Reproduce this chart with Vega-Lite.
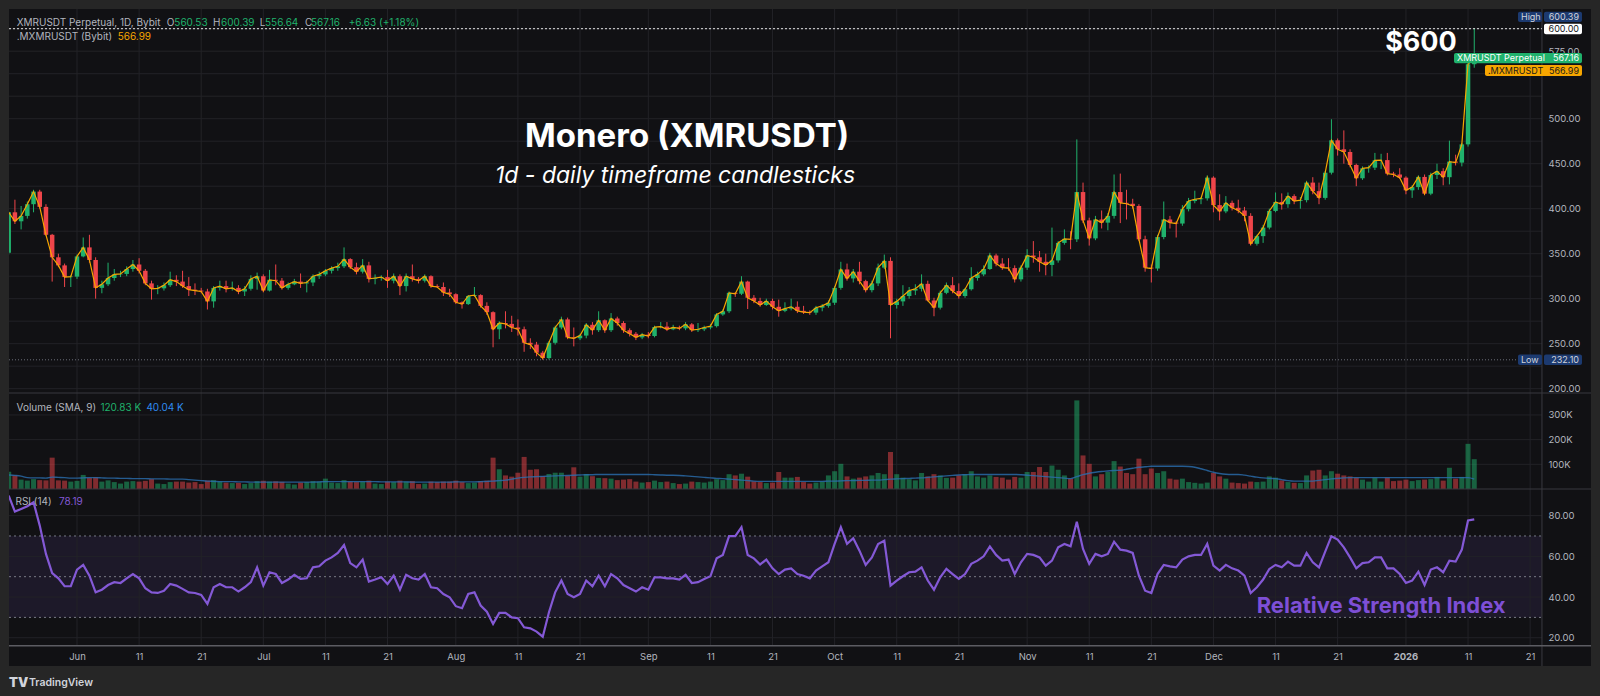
{
  "$schema": "https://vega.github.io/schema/vega-lite/v6.json",
  "background": "#262626",
  "padding": {"left": 8, "top": 8, "right": 10, "bottom": 8},
  "bounds": "flush",
  "spacing": 0,
  "config": {
    "font": "Inter",
    "view": {"stroke": null},
    "axis": {"labelFont": "Inter", "labelFontSize": 9.5, "labelColor": "#b2b5be", "ticks": false, "tickSize": 0, "domain": false, "grid": false, "labelOverlap": false, "labelBound": false, "labelFlush": false}
  },
  "datasets": {
    "ticks": [
      {"t": "2025-06-01"}, {"t": "2025-06-11"}, {"t": "2025-06-21"}, {"t": "2025-07-01"}, {"t": "2025-07-11"}, {"t": "2025-07-21"},
      {"t": "2025-08-01"}, {"t": "2025-08-11"}, {"t": "2025-08-21"}, {"t": "2025-09-01"}, {"t": "2025-09-11"}, {"t": "2025-09-21"},
      {"t": "2025-10-01"}, {"t": "2025-10-11"}, {"t": "2025-10-21"}, {"t": "2025-11-01"}, {"t": "2025-11-11"}, {"t": "2025-11-21"},
      {"t": "2025-12-01"}, {"t": "2025-12-11"}, {"t": "2025-12-21"}, {"t": "2026-01-01"}, {"t": "2026-01-11"}, {"t": "2026-01-21"}
    ],
    "xmr": [
      {"t":"2025-05-21","o":351,"h":397,"l":349,"c":396,"v":70,"vs":57,"r":89.8},
      {"t":"2025-05-22","o":396,"h":410,"l":383,"c":386,"v":55,"vs":55,"r":82},
      {"t":"2025-05-23","o":386,"h":403,"l":377,"c":392,"v":38,"vs":52,"r":83.3},
      {"t":"2025-05-24","o":392,"h":408,"l":389,"c":405,"v":34,"vs":46,"r":84.6},
      {"t":"2025-05-25","o":405,"h":421,"l":396,"c":419,"v":40,"vs":45,"r":86.6},
      {"t":"2025-05-26","o":419,"h":421,"l":400,"c":402,"v":36,"vs":45,"r":75.1},
      {"t":"2025-05-27","o":402,"h":405,"l":370,"c":371,"v":35,"vs":44,"r":61.2},
      {"t":"2025-05-28","o":371,"h":372,"l":319,"c":346,"v":127,"vs":48,"r":51.8},
      {"t":"2025-05-29","o":346,"h":350,"l":335,"c":337,"v":35,"vs":47,"r":49.2},
      {"t":"2025-05-30","o":337,"h":339,"l":313,"c":324,"v":34,"vs":46,"r":45.3},
      {"t":"2025-05-31","o":324,"h":326,"l":313,"c":324.5,"v":30,"vs":44,"r":45.3},
      {"t":"2025-06-01","o":324.5,"h":349,"l":322,"c":347,"v":33,"vs":44,"r":53.5},
      {"t":"2025-06-02","o":347,"h":368,"l":346,"c":357,"v":57,"vs":45,"r":55.8},
      {"t":"2025-06-03","o":357,"h":371,"l":340,"c":343,"v":45,"vs":46,"r":50.5},
      {"t":"2025-06-04","o":343,"h":346,"l":300,"c":312,"v":47,"vs":46,"r":42.3},
      {"t":"2025-06-05","o":312,"h":320,"l":306,"c":316,"v":30,"vs":45,"r":43.6},
      {"t":"2025-06-06","o":316,"h":340,"l":314,"c":323,"v":35,"vs":44,"r":45.9},
      {"t":"2025-06-07","o":323,"h":333,"l":320,"c":327,"v":28,"vs":44,"r":47.3},
      {"t":"2025-06-08","o":327,"h":331,"l":324,"c":327.5,"v":22,"vs":43,"r":46.9},
      {"t":"2025-06-09","o":327.5,"h":336,"l":325,"c":333,"v":30,"vs":43,"r":49.2},
      {"t":"2025-06-10","o":333,"h":343,"l":330,"c":338,"v":32,"vs":42,"r":51.3},
      {"t":"2025-06-11","o":338,"h":345,"l":328,"c":331,"v":30,"vs":42,"r":49.2},
      {"t":"2025-06-12","o":331,"h":333,"l":315,"c":317,"v":33,"vs":42,"r":44.3},
      {"t":"2025-06-13","o":317,"h":320,"l":299,"c":311,"v":40,"vs":41,"r":42.3},
      {"t":"2025-06-14","o":311,"h":315,"l":305,"c":311.5,"v":22,"vs":41,"r":42},
      {"t":"2025-06-15","o":311.5,"h":318,"l":309,"c":315,"v":20,"vs":41,"r":43.1},
      {"t":"2025-06-16","o":315,"h":330,"l":313,"c":321,"v":28,"vs":40,"r":46.4},
      {"t":"2025-06-17","o":321,"h":326,"l":314,"c":319,"v":30,"vs":40,"r":45.6},
      {"t":"2025-06-18","o":319,"h":331,"l":312,"c":314,"v":30,"vs":40,"r":44},
      {"t":"2025-06-19","o":314,"h":324,"l":303,"c":310,"v":26,"vs":38,"r":42.3},
      {"t":"2025-06-20","o":310,"h":317,"l":304,"c":309,"v":28,"vs":36,"r":42},
      {"t":"2025-06-21","o":309,"h":312,"l":306,"c":308,"v":20,"vs":34,"r":41},
      {"t":"2025-06-22","o":308,"h":311,"l":288,"c":297,"v":34,"vs":32,"r":36.6},
      {"t":"2025-06-23","o":297,"h":314,"l":290,"c":312,"v":36,"vs":31,"r":44.8},
      {"t":"2025-06-24","o":312,"h":320,"l":309,"c":314,"v":30,"vs":30,"r":46.4},
      {"t":"2025-06-25","o":314,"h":320,"l":307,"c":311,"v":26,"vs":30,"r":44.8},
      {"t":"2025-06-26","o":311,"h":319,"l":309,"c":312,"v":24,"vs":30,"r":44.8},
      {"t":"2025-06-27","o":312,"h":315,"l":305,"c":308,"v":25,"vs":29,"r":42.7},
      {"t":"2025-06-28","o":308,"h":314,"l":303,"c":311,"v":20,"vs":29,"r":44.8},
      {"t":"2025-06-29","o":311,"h":326,"l":309,"c":322,"v":24,"vs":28,"r":47.3},
      {"t":"2025-06-30","o":322,"h":329,"l":310,"c":325,"v":32,"vs":28,"r":54.6},
      {"t":"2025-07-01","o":325,"h":327,"l":307,"c":309,"v":33,"vs":28,"r":45.6},
      {"t":"2025-07-02","o":309,"h":332,"l":308,"c":321,"v":30,"vs":28,"r":52.2},
      {"t":"2025-07-03","o":321,"h":338,"l":315,"c":320,"v":31,"vs":28,"r":51.3},
      {"t":"2025-07-04","o":320,"h":323,"l":310,"c":312,"v":29,"vs":28,"r":46.9},
      {"t":"2025-07-05","o":312,"h":318,"l":310,"c":316,"v":22,"vs":28,"r":48.6},
      {"t":"2025-07-06","o":316,"h":322,"l":315,"c":319,"v":18,"vs":28,"r":50.9},
      {"t":"2025-07-07","o":319,"h":328,"l":312,"c":317,"v":26,"vs":28,"r":48.9},
      {"t":"2025-07-08","o":317,"h":320,"l":307,"c":318,"v":28,"vs":28,"r":49.2},
      {"t":"2025-07-09","o":318,"h":327,"l":314,"c":325,"v":32,"vs":28,"r":54.6},
      {"t":"2025-07-10","o":325,"h":330,"l":322,"c":327,"v":30,"vs":29,"r":55.1},
      {"t":"2025-07-11","o":327,"h":333,"l":325,"c":331,"v":42,"vs":30,"r":57.9},
      {"t":"2025-07-12","o":331,"h":336,"l":328,"c":334,"v":26,"vs":30,"r":59.5},
      {"t":"2025-07-13","o":334,"h":340,"l":331,"c":336,"v":24,"vs":30,"r":61.7},
      {"t":"2025-07-14","o":336,"h":357,"l":334,"c":344,"v":36,"vs":30,"r":65.6},
      {"t":"2025-07-15","o":344,"h":345,"l":333,"c":335,"v":30,"vs":30,"r":56.7},
      {"t":"2025-07-16","o":335,"h":340,"l":327,"c":330,"v":28,"vs":30,"r":54.6},
      {"t":"2025-07-17","o":330,"h":344,"l":328,"c":337,"v":30,"vs":30,"r":58.4},
      {"t":"2025-07-18","o":337,"h":341,"l":318,"c":322,"v":34,"vs":30,"r":47.6},
      {"t":"2025-07-19","o":322,"h":327,"l":316,"c":323,"v":22,"vs":30,"r":48.6},
      {"t":"2025-07-20","o":323,"h":326,"l":320,"c":324,"v":20,"vs":29,"r":49.7},
      {"t":"2025-07-21","o":324,"h":332,"l":312,"c":320,"v":30,"vs":29,"r":46.4},
      {"t":"2025-07-22","o":320,"h":328,"l":317,"c":325,"v":28,"vs":29,"r":50.5},
      {"t":"2025-07-23","o":325,"h":327,"l":304,"c":314,"v":34,"vs":29,"r":43.6},
      {"t":"2025-07-24","o":314,"h":328,"l":308,"c":325,"v":30,"vs":29,"r":50.9},
      {"t":"2025-07-25","o":325,"h":338,"l":319,"c":322,"v":32,"vs":28,"r":49.2},
      {"t":"2025-07-26","o":322,"h":324,"l":317,"c":320,"v":20,"vs":28,"r":48.6},
      {"t":"2025-07-27","o":320,"h":327,"l":318,"c":325,"v":22,"vs":28,"r":51.3},
      {"t":"2025-07-28","o":325,"h":326,"l":312,"c":314,"v":30,"vs":28,"r":44.8},
      {"t":"2025-07-29","o":314,"h":316,"l":312,"c":313,"v":28,"vs":28,"r":44.3},
      {"t":"2025-07-30","o":313,"h":318,"l":303,"c":307,"v":30,"vs":28,"r":41.5},
      {"t":"2025-07-31","o":307,"h":311,"l":302,"c":305,"v":30,"vs":28,"r":39.9},
      {"t":"2025-08-01","o":305,"h":306,"l":294,"c":296,"v":34,"vs":29,"r":35.5},
      {"t":"2025-08-02","o":296,"h":297,"l":289,"c":294,"v":28,"vs":29,"r":34.5},
      {"t":"2025-08-03","o":294,"h":304,"l":293,"c":303,"v":24,"vs":29,"r":41.5},
      {"t":"2025-08-04","o":303,"h":313,"l":302,"c":304,"v":26,"vs":29,"r":42.3},
      {"t":"2025-08-05","o":304,"h":305,"l":290,"c":292,"v":32,"vs":30,"r":35.8},
      {"t":"2025-08-06","o":292,"h":296,"l":282,"c":285,"v":34,"vs":31,"r":32.8},
      {"t":"2025-08-07","o":285,"h":286,"l":246,"c":266,"v":127,"vs":32,"r":26.8},
      {"t":"2025-08-08","o":266,"h":275,"l":255,"c":273,"v":80,"vs":34,"r":32.2},
      {"t":"2025-08-09","o":273,"h":286,"l":267,"c":272,"v":55,"vs":36,"r":32.2},
      {"t":"2025-08-10","o":272,"h":281,"l":263,"c":268,"v":50,"vs":40,"r":30},
      {"t":"2025-08-11","o":268,"h":277,"l":259,"c":266,"v":66,"vs":44,"r":29.6},
      {"t":"2025-08-12","o":266,"h":269,"l":241,"c":251,"v":130,"vs":47,"r":25.1},
      {"t":"2025-08-13","o":251,"h":256,"l":244,"c":249,"v":78,"vs":49,"r":24.6},
      {"t":"2025-08-14","o":249,"h":252,"l":236,"c":240,"v":80,"vs":50,"r":23},
      {"t":"2025-08-15","o":240,"h":242,"l":232.1,"c":234,"v":52,"vs":51,"r":20.5},
      {"t":"2025-08-16","o":234,"h":253,"l":232.5,"c":251,"v":61,"vs":52,"r":32.5},
      {"t":"2025-08-17","o":251,"h":270,"l":249,"c":268,"v":66,"vs":53,"r":42.3},
      {"t":"2025-08-18","o":268,"h":280,"l":266,"c":277,"v":66,"vs":54,"r":48.1},
      {"t":"2025-08-19","o":277,"h":279,"l":255,"c":257,"v":54,"vs":55,"r":41.5},
      {"t":"2025-08-20","o":257,"h":268,"l":247,"c":256,"v":88,"vs":56,"r":39.9},
      {"t":"2025-08-21","o":256,"h":261,"l":254,"c":259,"v":50,"vs":57,"r":41.5},
      {"t":"2025-08-22","o":259,"h":273,"l":256,"c":271,"v":61,"vs":58,"r":48.1},
      {"t":"2025-08-23","o":271,"h":274,"l":260,"c":265,"v":52,"vs":58,"r":45.3},
      {"t":"2025-08-24","o":265,"h":286,"l":263,"c":276,"v":45,"vs":59,"r":50.5},
      {"t":"2025-08-25","o":276,"h":277,"l":262,"c":265,"v":44,"vs":59,"r":45.3},
      {"t":"2025-08-26","o":265,"h":284,"l":263,"c":278,"v":42,"vs":59,"r":51.3},
      {"t":"2025-08-27","o":278,"h":280,"l":270,"c":273,"v":36,"vs":59,"r":49.2},
      {"t":"2025-08-28","o":273,"h":275,"l":262,"c":265,"v":38,"vs":59,"r":45.9},
      {"t":"2025-08-29","o":265,"h":267,"l":258,"c":261,"v":40,"vs":59,"r":44.3},
      {"t":"2025-08-30","o":261,"h":263,"l":254,"c":257,"v":30,"vs":59,"r":42.7},
      {"t":"2025-08-31","o":257,"h":262,"l":255,"c":260,"v":26,"vs":59,"r":44.8},
      {"t":"2025-09-01","o":260,"h":263,"l":256,"c":258.5,"v":28,"vs":59,"r":43.6},
      {"t":"2025-09-02","o":258.5,"h":270,"l":257,"c":268.5,"v":34,"vs":58,"r":49.7},
      {"t":"2025-09-03","o":268.5,"h":274,"l":267,"c":269,"v":28,"vs":57,"r":49.7},
      {"t":"2025-09-04","o":269,"h":274,"l":264,"c":266,"v":30,"vs":56,"r":49.2},
      {"t":"2025-09-05","o":266,"h":271,"l":265,"c":268,"v":24,"vs":56,"r":49.2},
      {"t":"2025-09-06","o":268,"h":270,"l":265,"c":267,"v":20,"vs":55,"r":48.6},
      {"t":"2025-09-07","o":267,"h":274,"l":265,"c":271.5,"v":22,"vs":53,"r":50.9},
      {"t":"2025-09-08","o":271.5,"h":273,"l":263,"c":265,"v":30,"vs":51,"r":46.9},
      {"t":"2025-09-09","o":265,"h":273,"l":263,"c":266,"v":28,"vs":49,"r":47.3},
      {"t":"2025-09-10","o":266,"h":270,"l":264,"c":268,"v":26,"vs":47,"r":48.9},
      {"t":"2025-09-11","o":268,"h":272,"l":266,"c":269.5,"v":30,"vs":45,"r":50.2},
      {"t":"2025-09-12","o":269.5,"h":284,"l":268,"c":282.5,"v":40,"vs":43,"r":59},
      {"t":"2025-09-13","o":282.5,"h":288,"l":281,"c":286,"v":36,"vs":42,"r":60.7},
      {"t":"2025-09-14","o":286,"h":308,"l":284,"c":306.5,"v":60,"vs":40,"r":69.9},
      {"t":"2025-09-15","o":306.5,"h":307,"l":302,"c":305.5,"v":55,"vs":38,"r":69.9},
      {"t":"2025-09-16","o":305.5,"h":325,"l":304,"c":319,"v":62,"vs":36,"r":74.3},
      {"t":"2025-09-17","o":319,"h":320,"l":288.5,"c":301,"v":50,"vs":34,"r":60.7},
      {"t":"2025-09-18","o":301,"h":304,"l":295,"c":297.5,"v":31,"vs":32,"r":59},
      {"t":"2025-09-19","o":297.5,"h":301,"l":291,"c":293,"v":28,"vs":31,"r":56},
      {"t":"2025-09-20","o":293,"h":300,"l":292,"c":297.5,"v":24,"vs":31,"r":58.4},
      {"t":"2025-09-21","o":297.5,"h":300,"l":288,"c":291,"v":26,"vs":31,"r":54.1},
      {"t":"2025-09-22","o":291,"h":299,"l":280,"c":286.5,"v":69,"vs":31,"r":51.3},
      {"t":"2025-09-23","o":286.5,"h":296,"l":285,"c":289,"v":46,"vs":31,"r":53.5},
      {"t":"2025-09-24","o":289,"h":300,"l":287,"c":291,"v":46,"vs":31,"r":54.1},
      {"t":"2025-09-25","o":291,"h":297,"l":284,"c":286.5,"v":49,"vs":31,"r":51.3},
      {"t":"2025-09-26","o":286.5,"h":292,"l":283,"c":285,"v":28,"vs":31,"r":50.5},
      {"t":"2025-09-27","o":285,"h":287,"l":282,"c":284.5,"v":22,"vs":31,"r":49.2},
      {"t":"2025-09-28","o":284.5,"h":292,"l":282,"c":290,"v":26,"vs":31,"r":53},
      {"t":"2025-09-29","o":290,"h":294,"l":286,"c":292,"v":30,"vs":31,"r":55.1},
      {"t":"2025-09-30","o":292,"h":298,"l":290,"c":295.5,"v":55,"vs":32,"r":57.1},
      {"t":"2025-10-01","o":295.5,"h":314,"l":293,"c":312,"v":72,"vs":32,"r":66.1},
      {"t":"2025-10-02","o":312,"h":341,"l":310,"c":332.5,"v":102,"vs":33,"r":74.3},
      {"t":"2025-10-03","o":332.5,"h":339,"l":320,"c":322.5,"v":51,"vs":34,"r":66.1},
      {"t":"2025-10-04","o":322.5,"h":333,"l":318,"c":330,"v":42,"vs":34,"r":68.9},
      {"t":"2025-10-05","o":330,"h":341,"l":316,"c":319.5,"v":46,"vs":35,"r":62.8},
      {"t":"2025-10-06","o":319.5,"h":321,"l":307,"c":309.5,"v":51,"vs":35,"r":55.8},
      {"t":"2025-10-07","o":309.5,"h":320,"l":307,"c":317,"v":55,"vs":36,"r":59.5},
      {"t":"2025-10-08","o":317,"h":339,"l":314,"c":334.5,"v":65,"vs":36,"r":66.1},
      {"t":"2025-10-09","o":334.5,"h":349,"l":333,"c":342,"v":60,"vs":38,"r":67.7},
      {"t":"2025-10-10","o":342,"h":346,"l":256,"c":293,"v":150,"vs":40,"r":45.6},
      {"t":"2025-10-11","o":293,"h":300,"l":289,"c":297,"v":60,"vs":41,"r":48.1},
      {"t":"2025-10-12","o":297,"h":315,"l":292,"c":303,"v":46,"vs":42,"r":50.2},
      {"t":"2025-10-13","o":303,"h":313,"l":300,"c":309,"v":40,"vs":43,"r":52.2},
      {"t":"2025-10-14","o":309,"h":316,"l":304,"c":311,"v":35,"vs":44,"r":52.5},
      {"t":"2025-10-15","o":311,"h":327,"l":308,"c":316.5,"v":65,"vs":45,"r":54.6},
      {"t":"2025-10-16","o":316.5,"h":320,"l":297,"c":298,"v":51,"vs":47,"r":48.1},
      {"t":"2025-10-17","o":298,"h":301,"l":280.5,"c":290,"v":60,"vs":49,"r":43.6},
      {"t":"2025-10-18","o":290,"h":309,"l":288,"c":306.5,"v":55,"vs":51,"r":49.7},
      {"t":"2025-10-19","o":306.5,"h":318,"l":305,"c":315,"v":45,"vs":53,"r":53.8},
      {"t":"2025-10-20","o":315,"h":324,"l":306,"c":308.5,"v":46,"vs":55,"r":51.3},
      {"t":"2025-10-21","o":308.5,"h":317,"l":300,"c":303,"v":55,"vs":57,"r":48.9},
      {"t":"2025-10-22","o":303,"h":312,"l":301,"c":310.5,"v":60,"vs":58,"r":51.3},
      {"t":"2025-10-23","o":310.5,"h":335,"l":309,"c":323,"v":72,"vs":59,"r":56.3},
      {"t":"2025-10-24","o":323,"h":330,"l":320,"c":327,"v":51,"vs":59,"r":57.9},
      {"t":"2025-10-25","o":327,"h":337,"l":325,"c":333,"v":46,"vs":59,"r":60},
      {"t":"2025-10-26","o":333,"h":351,"l":332,"c":348,"v":55,"vs":59,"r":64.9},
      {"t":"2025-10-27","o":348,"h":350,"l":336,"c":339,"v":49,"vs":59,"r":60.7},
      {"t":"2025-10-28","o":339,"h":345,"l":332,"c":334.5,"v":46,"vs":59,"r":57.9},
      {"t":"2025-10-29","o":334.5,"h":345,"l":331,"c":334,"v":38,"vs":59,"r":58.4},
      {"t":"2025-10-30","o":334,"h":337,"l":318,"c":321.5,"v":49,"vs":59,"r":51.3},
      {"t":"2025-10-31","o":321.5,"h":337,"l":319,"c":334.5,"v":46,"vs":58,"r":57.1},
      {"t":"2025-11-01","o":334.5,"h":355,"l":332,"c":348,"v":69,"vs":56,"r":61.2},
      {"t":"2025-11-02","o":348,"h":364,"l":340,"c":346,"v":69,"vs":54,"r":60.7},
      {"t":"2025-11-03","o":346,"h":353,"l":330,"c":341,"v":89,"vs":52,"r":59.5},
      {"t":"2025-11-04","o":341,"h":350,"l":326,"c":337.5,"v":69,"vs":50,"r":55.4},
      {"t":"2025-11-05","o":337.5,"h":379,"l":325,"c":342.5,"v":95,"vs":48,"r":57.9},
      {"t":"2025-11-06","o":342.5,"h":364,"l":340,"c":362,"v":78,"vs":46,"r":64.4},
      {"t":"2025-11-07","o":362,"h":377,"l":360,"c":366.5,"v":55,"vs":44,"r":66.1},
      {"t":"2025-11-08","o":366.5,"h":375,"l":355,"c":366,"v":42,"vs":42,"r":64.9},
      {"t":"2025-11-09","o":366,"h":477,"l":363,"c":418.5,"v":359,"vs":50,"r":77},
      {"t":"2025-11-10","o":418.5,"h":429,"l":384,"c":387,"v":136,"vs":58,"r":63.6},
      {"t":"2025-11-11","o":387,"h":390,"l":359,"c":367,"v":102,"vs":64,"r":56.3},
      {"t":"2025-11-12","o":367,"h":392,"l":365,"c":388,"v":51,"vs":68,"r":61.2},
      {"t":"2025-11-13","o":388,"h":398,"l":378,"c":384.5,"v":60,"vs":71,"r":60},
      {"t":"2025-11-14","o":384.5,"h":395,"l":376,"c":392,"v":69,"vs":73,"r":61.2},
      {"t":"2025-11-15","o":392,"h":438,"l":389,"c":418.5,"v":113,"vs":75,"r":67.2},
      {"t":"2025-11-16","o":418.5,"h":439,"l":384,"c":406.5,"v":91,"vs":76,"r":63.3},
      {"t":"2025-11-17","o":406.5,"h":421,"l":388,"c":405.5,"v":65,"vs":80,"r":62.8},
      {"t":"2025-11-18","o":405.5,"h":411,"l":400,"c":403,"v":60,"vs":84,"r":61.7},
      {"t":"2025-11-19","o":403,"h":405,"l":364,"c":366,"v":123,"vs":88,"r":50.5},
      {"t":"2025-11-20","o":366,"h":370,"l":330,"c":334.5,"v":60,"vs":90,"r":43.1},
      {"t":"2025-11-21","o":334.5,"h":338,"l":318,"c":333.5,"v":83,"vs":92,"r":42},
      {"t":"2025-11-22","o":333.5,"h":371,"l":331,"c":368.5,"v":65,"vs":92,"r":51.3},
      {"t":"2025-11-23","o":368.5,"h":408,"l":366,"c":388,"v":72,"vs":92,"r":55.8},
      {"t":"2025-11-24","o":388,"h":392,"l":378,"c":384.5,"v":42,"vs":92,"r":55.1},
      {"t":"2025-11-25","o":384.5,"h":386,"l":368,"c":383.5,"v":38,"vs":92,"r":54.6},
      {"t":"2025-11-26","o":383.5,"h":404,"l":381,"c":399.5,"v":42,"vs":92,"r":58.4},
      {"t":"2025-11-27","o":399.5,"h":412,"l":397,"c":408.5,"v":28,"vs":91,"r":60},
      {"t":"2025-11-28","o":408.5,"h":420,"l":406,"c":410.5,"v":25,"vs":88,"r":60.7},
      {"t":"2025-11-29","o":410.5,"h":413,"l":405,"c":411.5,"v":22,"vs":82,"r":60.7},
      {"t":"2025-11-30","o":411.5,"h":437,"l":409,"c":434.5,"v":26,"vs":75,"r":66.1},
      {"t":"2025-12-01","o":434.5,"h":436,"l":396,"c":404,"v":65,"vs":68,"r":55.4},
      {"t":"2025-12-02","o":404,"h":416,"l":387,"c":397,"v":51,"vs":63,"r":53},
      {"t":"2025-12-03","o":397,"h":414,"l":395,"c":406.5,"v":42,"vs":60,"r":55.8},
      {"t":"2025-12-04","o":406.5,"h":409,"l":398,"c":401,"v":26,"vs":59,"r":54.1},
      {"t":"2025-12-05","o":401,"h":410,"l":395,"c":398,"v":24,"vs":59,"r":53},
      {"t":"2025-12-06","o":398,"h":402,"l":386,"c":392,"v":22,"vs":56,"r":50.5},
      {"t":"2025-12-07","o":392,"h":395,"l":359,"c":361,"v":30,"vs":52,"r":42},
      {"t":"2025-12-08","o":361,"h":371,"l":359,"c":369.5,"v":28,"vs":48,"r":44.8},
      {"t":"2025-12-09","o":369.5,"h":382,"l":362,"c":379,"v":30,"vs":45,"r":48.6},
      {"t":"2025-12-10","o":379,"h":400,"l":377,"c":397.5,"v":51,"vs":43,"r":53.8},
      {"t":"2025-12-11","o":397.5,"h":418,"l":396,"c":407.5,"v":46,"vs":42,"r":55.8},
      {"t":"2025-12-12","o":407.5,"h":417,"l":399,"c":405,"v":35,"vs":38,"r":54.6},
      {"t":"2025-12-13","o":405,"h":418,"l":401,"c":414,"v":28,"vs":34,"r":57.4},
      {"t":"2025-12-14","o":414,"h":416,"l":405,"c":408.5,"v":25,"vs":32,"r":55.4},
      {"t":"2025-12-15","o":408.5,"h":413,"l":400,"c":409.5,"v":24,"vs":32,"r":55.4},
      {"t":"2025-12-16","o":409.5,"h":431,"l":407,"c":429,"v":55,"vs":32,"r":61.7},
      {"t":"2025-12-17","o":429,"h":435,"l":416,"c":419.5,"v":75,"vs":32,"r":57.1},
      {"t":"2025-12-18","o":419.5,"h":429,"l":405,"c":412,"v":78,"vs":35,"r":54.6},
      {"t":"2025-12-19","o":412,"h":442,"l":410,"c":440,"v":55,"vs":38,"r":62.3},
      {"t":"2025-12-20","o":440,"h":499.4,"l":438,"c":476,"v":72,"vs":41,"r":69.9},
      {"t":"2025-12-21","o":476,"h":478,"l":459,"c":466,"v":62,"vs":43,"r":68.2},
      {"t":"2025-12-22","o":466,"h":487,"l":450,"c":463,"v":55,"vs":45,"r":64.4},
      {"t":"2025-12-23","o":463,"h":466,"l":446,"c":448.6,"v":51,"vs":46,"r":59.5},
      {"t":"2025-12-24","o":448.6,"h":450,"l":425,"c":433.8,"v":46,"vs":46,"r":54.1},
      {"t":"2025-12-25","o":433.8,"h":447,"l":432,"c":444.9,"v":38,"vs":46,"r":56.7},
      {"t":"2025-12-26","o":444.9,"h":448,"l":440,"c":445.6,"v":30,"vs":46,"r":57.1},
      {"t":"2025-12-27","o":445.6,"h":462,"l":443,"c":453.8,"v":46,"vs":46,"r":59.5},
      {"t":"2025-12-28","o":453.8,"h":461,"l":444,"c":454,"v":30,"vs":46,"r":59.5},
      {"t":"2025-12-29","o":454,"h":462,"l":437,"c":439,"v":46,"vs":46,"r":54.1},
      {"t":"2025-12-30","o":439,"h":441,"l":435,"c":438,"v":32,"vs":46,"r":54.1},
      {"t":"2025-12-31","o":438,"h":445,"l":433,"c":434.5,"v":34,"vs":46,"r":51.3},
      {"t":"2026-01-01","o":434.5,"h":436,"l":416,"c":420.4,"v":38,"vs":46,"r":46.9},
      {"t":"2026-01-02","o":420.4,"h":426,"l":412,"c":424,"v":32,"vs":46,"r":48.1},
      {"t":"2026-01-03","o":424,"h":437,"l":421,"c":435.3,"v":36,"vs":46,"r":52.5},
      {"t":"2026-01-04","o":435.3,"h":438,"l":415,"c":416.7,"v":38,"vs":46,"r":45.9},
      {"t":"2026-01-05","o":416.7,"h":440,"l":415,"c":437.5,"v":40,"vs":46,"r":53.5},
      {"t":"2026-01-06","o":437.5,"h":450,"l":433,"c":441.7,"v":49,"vs":46,"r":54.6},
      {"t":"2026-01-07","o":441.7,"h":445,"l":426,"c":435,"v":34,"vs":46,"r":52.2},
      {"t":"2026-01-08","o":435,"h":475.6,"l":427,"c":452.3,"v":86,"vs":46,"r":57.9},
      {"t":"2026-01-09","o":452.3,"h":460,"l":448,"c":451.2,"v":42,"vs":46,"r":57.4},
      {"t":"2026-01-10","o":451.2,"h":473,"l":447,"c":471.5,"v":49,"vs":46,"r":63.3},
      {"t":"2026-01-11","o":471.5,"h":567,"l":469,"c":560.53,"v":183,"vs":46,"r":77.6},
      {"t":"2026-01-12","o":560.53,"h":600.39,"l":556.64,"c":567.16,"v":120.83,"vs":40.04,"r":78.19}
    ]
  },
  "vconcat": [
    {
      "width": 1582,
      "height": 384,
      "view": {"fill": "#111114", "stroke": null},
      "data": {"values": [{}]},
      "layer": [
        {
          "data": {"values": [{"p":200},{"p":225},{"p":250},{"p":275},{"p":300},{"p":325},{"p":350},{"p":375},{"p":400},{"p":425},{"p":450},{"p":475},{"p":500},{"p":525},{"p":550},{"p":575},{"p":600}]},
          "mark": {"type": "rule", "color": "#222227", "strokeWidth": 1},
          "encoding": {
            "y": {"field": "p", "type": "quantitative"},
            "x": {"datum": {"year":2025,"month":5,"date":21,"hours":1,"minutes":10,"utc":true}, "type": "temporal", "axis": null},
            "x2": {"datum": {"year":2026,"month":1,"date":22,"hours":21,"minutes":40,"utc":true}, "type": "temporal"}
          }
        },
        {
          "data": {"name": "ticks"},
          "mark": {"type": "rule", "color": "#222227", "strokeWidth": 1},
          "encoding": {"x": {"field": "t", "type": "temporal", "axis": null}}
        },
        {
          "mark": {"type": "rule", "color": "#6a6d78", "strokeDash": [1, 2]},
          "encoding": {
            "y": {"datum": 232.1, "type": "quantitative"},
            "x": {"datum": {"year":2025,"month":5,"date":21,"hours":1,"minutes":10,"utc":true}, "type": "temporal", "axis": null},
            "x2": {"datum": {"year":2026,"month":1,"date":22,"hours":21,"minutes":40,"utc":true}, "type": "temporal"}
          }
        },
        {
          "mark": {"type": "rule", "color": "#3a3a40"},
          "encoding": {"x": {"datum": {"year":2026,"month":1,"date":22,"hours":21,"minutes":40,"utc":true}, "type": "temporal", "axis": null}}
        },
        {
          "data": {"name": "xmr"},
          "mark": {"type": "rule", "clip": true, "strokeWidth": 1},
          "encoding": {
            "x": {"field": "t", "type": "temporal", "scale": {"type": "utc", "padding": 0, "domain": [{"year":2025,"month":5,"date":21,"hours":1,"minutes":10,"utc":true}, {"year":2026,"month":1,"date":30,"hours":19,"minutes":12,"utc":true}]}, "axis": null},
            "y": {"field": "l", "type": "quantitative", "scale": {"domain": [195.2, 621.9], "zero": false, "nice": false, "padding": 0},
              "axis": {"orient": "right", "values": [200,225,250,275,300,325,350,375,400,425,450,475,500,525,575], "format": ".2f", "labelPadding": -43, "labelAlign": "left", "labelBaseline": "middle", "title": null}},
            "y2": {"field": "h"},
            "color": {"condition": {"test": "datum.c >= datum.o", "value": "#20b26c"}, "value": "#ef454a"}
          }
        },
        {
          "data": {"name": "xmr"},
          "mark": {"type": "bar", "width": 4.5, "clip": true},
          "encoding": {
            "x": {"field": "t", "type": "temporal", "axis": null},
            "y": {"field": "o", "type": "quantitative"},
            "y2": {"field": "c"},
            "color": {"condition": {"test": "datum.c >= datum.o", "value": "#20b26c"}, "value": "#ef454a"}
          }
        },
        {
          "data": {"name": "xmr"},
          "mark": {"type": "line", "color": "#f7a600", "strokeWidth": 1.2, "clip": true},
          "encoding": {
            "x": {"field": "t", "type": "temporal", "axis": null},
            "y": {"field": "c", "type": "quantitative"}
          }
        },
        {
          "mark": {"type": "rule", "color": "#e8e8e8", "strokeDash": [2, 2], "strokeWidth": 1},
          "encoding": {
            "y": {"datum": 600, "type": "quantitative"},
            "x": {"datum": {"year":2025,"month":5,"date":21,"hours":1,"minutes":10,"utc":true}, "type": "temporal", "axis": null},
            "x2": {"datum": {"year":2026,"month":1,"date":22,"hours":21,"minutes":40,"utc":true}, "type": "temporal"}
          }
        },
        {
          "mark": {"type": "text", "align": "left", "baseline": "middle", "dx": 7.7, "fontSize": 10, "color": "#b2b5be", "text": "XMRUSDT Perpetual, 1D, Bybit"},
          "encoding": {"x": {"datum": {"year":2025,"month":5,"date":21,"hours":1,"minutes":10,"utc":true}, "type": "temporal", "axis": null}, "y": {"datum": 606.7, "type": "quantitative"}}
        },
        {
          "mark": {"type": "text", "align": "left", "baseline": "middle", "dx": 157.7, "fontSize": 10, "color": "#b2b5be", "text": "O"},
          "encoding": {"x": {"datum": {"year":2025,"month":5,"date":21,"hours":1,"minutes":10,"utc":true}, "type": "temporal", "axis": null}, "y": {"datum": 606.7, "type": "quantitative"}}
        },
        {
          "mark": {"type": "text", "align": "left", "baseline": "middle", "dx": 165.3, "fontSize": 10, "color": "#20b26c", "text": "560.53"},
          "encoding": {"x": {"datum": {"year":2025,"month":5,"date":21,"hours":1,"minutes":10,"utc":true}, "type": "temporal", "axis": null}, "y": {"datum": 606.7, "type": "quantitative"}}
        },
        {
          "mark": {"type": "text", "align": "left", "baseline": "middle", "dx": 204, "fontSize": 10, "color": "#b2b5be", "text": "H"},
          "encoding": {"x": {"datum": {"year":2025,"month":5,"date":21,"hours":1,"minutes":10,"utc":true}, "type": "temporal", "axis": null}, "y": {"datum": 606.7, "type": "quantitative"}}
        },
        {
          "mark": {"type": "text", "align": "left", "baseline": "middle", "dx": 212, "fontSize": 10, "color": "#20b26c", "text": "600.39"},
          "encoding": {"x": {"datum": {"year":2025,"month":5,"date":21,"hours":1,"minutes":10,"utc":true}, "type": "temporal", "axis": null}, "y": {"datum": 606.7, "type": "quantitative"}}
        },
        {
          "mark": {"type": "text", "align": "left", "baseline": "middle", "dx": 250.7, "fontSize": 10, "color": "#b2b5be", "text": "L"},
          "encoding": {"x": {"datum": {"year":2025,"month":5,"date":21,"hours":1,"minutes":10,"utc":true}, "type": "temporal", "axis": null}, "y": {"datum": 606.7, "type": "quantitative"}}
        },
        {
          "mark": {"type": "text", "align": "left", "baseline": "middle", "dx": 256, "fontSize": 10, "color": "#20b26c", "text": "556.64"},
          "encoding": {"x": {"datum": {"year":2025,"month":5,"date":21,"hours":1,"minutes":10,"utc":true}, "type": "temporal", "axis": null}, "y": {"datum": 606.7, "type": "quantitative"}}
        },
        {
          "mark": {"type": "text", "align": "left", "baseline": "middle", "dx": 296, "fontSize": 10, "color": "#b2b5be", "text": "C"},
          "encoding": {"x": {"datum": {"year":2025,"month":5,"date":21,"hours":1,"minutes":10,"utc":true}, "type": "temporal", "axis": null}, "y": {"datum": 606.7, "type": "quantitative"}}
        },
        {
          "mark": {"type": "text", "align": "left", "baseline": "middle", "dx": 302, "fontSize": 10, "color": "#20b26c", "text": "567.16"},
          "encoding": {"x": {"datum": {"year":2025,"month":5,"date":21,"hours":1,"minutes":10,"utc":true}, "type": "temporal", "axis": null}, "y": {"datum": 606.7, "type": "quantitative"}}
        },
        {
          "mark": {"type": "text", "align": "left", "baseline": "middle", "dx": 339.7, "fontSize": 10, "color": "#20b26c", "text": "+6.63 (+1.18%)"},
          "encoding": {"x": {"datum": {"year":2025,"month":5,"date":21,"hours":1,"minutes":10,"utc":true}, "type": "temporal", "axis": null}, "y": {"datum": 606.7, "type": "quantitative"}}
        },
        {
          "mark": {"type": "text", "align": "left", "baseline": "middle", "dx": 7.7, "fontSize": 10, "color": "#b2b5be", "text": ".MXMRUSDT (Bybit)"},
          "encoding": {"x": {"datum": {"year":2025,"month":5,"date":21,"hours":1,"minutes":10,"utc":true}, "type": "temporal", "axis": null}, "y": {"datum": 591.1, "type": "quantitative"}}
        },
        {
          "mark": {"type": "text", "align": "left", "baseline": "middle", "dx": 108.7, "fontSize": 10, "color": "#f7a600", "text": "566.99"},
          "encoding": {"x": {"datum": {"year":2025,"month":5,"date":21,"hours":1,"minutes":10,"utc":true}, "type": "temporal", "axis": null}, "y": {"datum": 591.1, "type": "quantitative"}}
        },
        {
          "mark": {"type": "text", "align": "center", "baseline": "middle", "fontSize": 33, "fontWeight": "bold", "color": "#ffffff", "text": "Monero (XMRUSDT)"},
          "encoding": {"x": {"datum": {"year":2025,"month":9,"date":7,"hours":6,"utc":true}, "type": "temporal", "axis": null}, "y": {"datum": 479.7, "type": "quantitative"}}
        },
        {
          "mark": {"type": "text", "align": "center", "baseline": "middle", "fontSize": 23, "fontStyle": "italic", "color": "#ffffff", "text": "1d - daily timeframe candlesticks"},
          "encoding": {"x": {"datum": {"year":2025,"month":9,"date":5,"hours":7,"utc":true}, "type": "temporal", "axis": null}, "y": {"datum": 435.8, "type": "quantitative"}}
        },
        {
          "mark": {"type": "text", "align": "center", "baseline": "middle", "fontSize": 27, "fontWeight": "bold", "color": "#ffffff", "text": "$600"},
          "encoding": {"x": {"datum": {"year":2026,"month":1,"date":3,"hours":10,"utc":true}, "type": "temporal", "axis": null}, "y": {"datum": 584.1, "type": "quantitative"}}
        },
        {
          "mark": {"type": "rect", "color": "#1c3a70", "cornerRadius": 2},
          "encoding": {
            "x": {"datum": {"year":2026,"month":1,"date":19,"hours":1,"utc":true}, "type": "temporal", "axis": null},
            "x2": {"datum": {"year":2026,"month":1,"date":22,"hours":21,"minutes":40,"utc":true}, "type": "temporal"},
            "y": {"datum": 607.4, "type": "quantitative"}, "y2": {"datum": 618.9, "type": "quantitative"}
          }
        },
        {
          "mark": {"type": "rect", "color": "#1c3a70", "cornerRadius": 2},
          "encoding": {
            "x": {"datum": {"year":2026,"month":1,"date":23,"hours":5,"minutes":30,"utc":true}, "type": "temporal", "axis": null},
            "x2": {"datum": {"year":2026,"month":1,"date":29,"hours":8,"minutes":24,"utc":true}, "type": "temporal"},
            "y": {"datum": 607.4, "type": "quantitative"}, "y2": {"datum": 618.9, "type": "quantitative"}
          }
        },
        {
          "mark": {"type": "rect", "color": "#ffffff", "cornerRadius": 2},
          "encoding": {
            "x": {"datum": {"year":2026,"month":1,"date":23,"hours":5,"minutes":30,"utc":true}, "type": "temporal", "axis": null},
            "x2": {"datum": {"year":2026,"month":1,"date":29,"hours":8,"minutes":24,"utc":true}, "type": "temporal"},
            "y": {"datum": 593.8, "type": "quantitative"}, "y2": {"datum": 605.6, "type": "quantitative"}
          }
        },
        {
          "mark": {"type": "rect", "color": "#20b26c", "cornerRadius": 2},
          "encoding": {
            "x": {"datum": {"year":2026,"month":1,"date":8,"hours":17,"minutes":45,"utc":true}, "type": "temporal", "axis": null},
            "x2": {"datum": {"year":2026,"month":1,"date":29,"hours":8,"minutes":24,"utc":true}, "type": "temporal"},
            "y": {"datum": 561.6, "type": "quantitative"}, "y2": {"datum": 573, "type": "quantitative"}
          }
        },
        {
          "mark": {"type": "rect", "color": "#f7a600", "cornerRadius": 2},
          "encoding": {
            "x": {"datum": {"year":2026,"month":1,"date":13,"hours":17,"minutes":30,"utc":true}, "type": "temporal", "axis": null},
            "x2": {"datum": {"year":2026,"month":1,"date":29,"hours":8,"minutes":24,"utc":true}, "type": "temporal"},
            "y": {"datum": 547.4, "type": "quantitative"}, "y2": {"datum": 559.7, "type": "quantitative"}
          }
        },
        {
          "mark": {"type": "rect", "color": "#1c3a70", "cornerRadius": 2},
          "encoding": {
            "x": {"datum": {"year":2026,"month":1,"date":19,"hours":1,"utc":true}, "type": "temporal", "axis": null},
            "x2": {"datum": {"year":2026,"month":1,"date":22,"hours":21,"minutes":40,"utc":true}, "type": "temporal"},
            "y": {"datum": 226.3, "type": "quantitative"}, "y2": {"datum": 237.9, "type": "quantitative"}
          }
        },
        {
          "mark": {"type": "rect", "color": "#1c3a70", "cornerRadius": 2},
          "encoding": {
            "x": {"datum": {"year":2026,"month":1,"date":23,"hours":5,"minutes":30,"utc":true}, "type": "temporal", "axis": null},
            "x2": {"datum": {"year":2026,"month":1,"date":29,"hours":8,"minutes":24,"utc":true}, "type": "temporal"},
            "y": {"datum": 226.3, "type": "quantitative"}, "y2": {"datum": 237.9, "type": "quantitative"}
          }
        },
        {
          "mark": {"type": "text", "align": "left", "baseline": "middle", "dx": 3, "fontSize": 9, "color": "#d1d4dc", "text": "High"},
          "encoding": {"x": {"datum": {"year":2026,"month":1,"date":19,"hours":1,"utc":true}, "type": "temporal", "axis": null}, "y": {"datum": 613.2, "type": "quantitative"}}
        },
        {
          "mark": {"type": "text", "align": "right", "baseline": "middle", "dx": -3, "fontSize": 9, "color": "#d1d4dc", "text": "600.39"},
          "encoding": {"x": {"datum": {"year":2026,"month":1,"date":29,"hours":8,"minutes":24,"utc":true}, "type": "temporal", "axis": null}, "y": {"datum": 613.2, "type": "quantitative"}}
        },
        {
          "mark": {"type": "text", "align": "right", "baseline": "middle", "dx": -3, "fontSize": 9, "color": "#131722", "text": "600.00"},
          "encoding": {"x": {"datum": {"year":2026,"month":1,"date":29,"hours":8,"minutes":24,"utc":true}, "type": "temporal", "axis": null}, "y": {"datum": 599.7, "type": "quantitative"}}
        },
        {
          "mark": {"type": "text", "align": "left", "baseline": "middle", "dx": 3, "fontSize": 9, "color": "#ffffff", "text": "XMRUSDT Perpetual"},
          "encoding": {"x": {"datum": {"year":2026,"month":1,"date":8,"hours":17,"minutes":45,"utc":true}, "type": "temporal", "axis": null}, "y": {"datum": 567.3, "type": "quantitative"}}
        },
        {
          "mark": {"type": "text", "align": "right", "baseline": "middle", "dx": -3, "fontSize": 9, "color": "#ffffff", "text": "567.16"},
          "encoding": {"x": {"datum": {"year":2026,"month":1,"date":29,"hours":8,"minutes":24,"utc":true}, "type": "temporal", "axis": null}, "y": {"datum": 567.3, "type": "quantitative"}}
        },
        {
          "mark": {"type": "text", "align": "left", "baseline": "middle", "dx": 3, "fontSize": 9, "color": "#1a1a1a", "text": ".MXMRUSDT"},
          "encoding": {"x": {"datum": {"year":2026,"month":1,"date":13,"hours":17,"minutes":30,"utc":true}, "type": "temporal", "axis": null}, "y": {"datum": 553.5, "type": "quantitative"}}
        },
        {
          "mark": {"type": "text", "align": "right", "baseline": "middle", "dx": -3, "fontSize": 9, "color": "#1a1a1a", "text": "566.99"},
          "encoding": {"x": {"datum": {"year":2026,"month":1,"date":29,"hours":8,"minutes":24,"utc":true}, "type": "temporal", "axis": null}, "y": {"datum": 553.5, "type": "quantitative"}}
        },
        {
          "mark": {"type": "text", "align": "left", "baseline": "middle", "dx": 3, "fontSize": 9, "color": "#d1d4dc", "text": "Low"},
          "encoding": {"x": {"datum": {"year":2026,"month":1,"date":19,"hours":1,"utc":true}, "type": "temporal", "axis": null}, "y": {"datum": 232.1, "type": "quantitative"}}
        },
        {
          "mark": {"type": "text", "align": "right", "baseline": "middle", "dx": -3, "fontSize": 9, "color": "#d1d4dc", "text": "232.10"},
          "encoding": {"x": {"datum": {"year":2026,"month":1,"date":29,"hours":8,"minutes":24,"utc":true}, "type": "temporal", "axis": null}, "y": {"datum": 232.1, "type": "quantitative"}}
        }
      ]
    },
    {
      "width": 1582,
      "height": 96,
      "view": {"fill": "#111114", "stroke": null},
      "data": {"values": [{}]},
      "layer": [
        {
          "data": {"values": [{"p":100},{"p":200},{"p":300}]},
          "mark": {"type": "rule", "color": "#222227", "strokeWidth": 1},
          "encoding": {
            "y": {"field": "p", "type": "quantitative"},
            "x": {"datum": {"year":2025,"month":5,"date":21,"hours":1,"minutes":10,"utc":true}, "type": "temporal", "axis": null},
            "x2": {"datum": {"year":2026,"month":1,"date":22,"hours":21,"minutes":40,"utc":true}, "type": "temporal"}
          }
        },
        {
          "data": {"name": "ticks"},
          "mark": {"type": "rule", "color": "#222227", "strokeWidth": 1},
          "encoding": {"x": {"field": "t", "type": "temporal", "axis": null}}
        },
        {
          "mark": {"type": "rule", "color": "#3a3a40"},
          "encoding": {"x": {"datum": {"year":2026,"month":1,"date":22,"hours":21,"minutes":40,"utc":true}, "type": "temporal", "axis": null}}
        },
        {
          "data": {"name": "xmr"},
          "mark": {"type": "bar", "width": 5, "clip": true, "opacity": 0.5},
          "encoding": {
            "x": {"field": "t", "type": "temporal", "scale": {"type": "utc", "padding": 0, "domain": [{"year":2025,"month":5,"date":21,"hours":1,"minutes":10,"utc":true}, {"year":2026,"month":1,"date":30,"hours":19,"minutes":12,"utc":true}]}, "axis": null},
            "y": {"field": "v", "type": "quantitative", "scale": {"domain": [0, 389], "nice": false, "padding": 0},
              "axis": {"orient": "right", "values": [100, 200, 300], "labelExpr": "datum.value + 'K'", "labelPadding": -43, "labelAlign": "left", "labelBaseline": "middle", "title": null}},
            "color": {"condition": {"test": "datum.c >= datum.o", "value": "#20b26c"}, "value": "#ef454a"}
          }
        },
        {
          "data": {"name": "xmr"},
          "mark": {"type": "line", "color": "#2a6fb0", "strokeWidth": 1.4, "opacity": 0.8, "clip": true, "interpolate": "monotone"},
          "encoding": {
            "x": {"field": "t", "type": "temporal", "axis": null},
            "y": {"field": "vs", "type": "quantitative"}
          }
        },
        {
          "mark": {"type": "rule", "color": "#38383e", "strokeWidth": 1},
          "encoding": {"y": {"datum": 389, "type": "quantitative"}}
        },
        {
          "mark": {"type": "text", "align": "left", "baseline": "middle", "dx": 7.5, "fontSize": 10, "color": "#b2b5be", "text": "Volume (SMA, 9)"},
          "encoding": {"x": {"datum": {"year":2025,"month":5,"date":21,"hours":1,"minutes":10,"utc":true}, "type": "temporal", "axis": null}, "y": {"datum": 329, "type": "quantitative"}}
        },
        {
          "mark": {"type": "text", "align": "left", "baseline": "middle", "dx": 91.4, "fontSize": 10, "color": "#20b26c", "text": "120.83 K"},
          "encoding": {"x": {"datum": {"year":2025,"month":5,"date":21,"hours":1,"minutes":10,"utc":true}, "type": "temporal", "axis": null}, "y": {"datum": 329, "type": "quantitative"}}
        },
        {
          "mark": {"type": "text", "align": "left", "baseline": "middle", "dx": 137.4, "fontSize": 10, "color": "#2f8bef", "text": "40.04 K"},
          "encoding": {"x": {"datum": {"year":2025,"month":5,"date":21,"hours":1,"minutes":10,"utc":true}, "type": "temporal", "axis": null}, "y": {"datum": 329, "type": "quantitative"}}
        }
      ]
    },
    {
      "width": 1582,
      "height": 177,
      "view": {"fill": "#111114", "stroke": null},
      "data": {"values": [{}]},
      "layer": [
        {
          "mark": {"type": "rect", "color": "#7e57c2", "opacity": 0.12},
          "encoding": {
            "x": {"datum": {"year":2025,"month":5,"date":21,"hours":1,"minutes":10,"utc":true}, "type": "temporal"},
            "x2": {"datum": {"year":2026,"month":1,"date":22,"hours":21,"minutes":40,"utc":true}, "type": "temporal"},
            "y": {"datum": 30, "type": "quantitative"}, "y2": {"datum": 70, "type": "quantitative"}
          }
        },
        {
          "data": {"values": [{"p":20},{"p":40},{"p":60},{"p":80}]},
          "mark": {"type": "rule", "color": "#222227", "strokeWidth": 1},
          "encoding": {
            "y": {"field": "p", "type": "quantitative"},
            "x": {"datum": {"year":2025,"month":5,"date":21,"hours":1,"minutes":10,"utc":true}, "type": "temporal"},
            "x2": {"datum": {"year":2026,"month":1,"date":22,"hours":21,"minutes":40,"utc":true}, "type": "temporal"}
          }
        },
        {
          "data": {"name": "ticks"},
          "mark": {"type": "rule", "color": "#222227", "strokeWidth": 1},
          "encoding": {"x": {"field": "t", "type": "temporal"}, "y": {"datum": 16.1, "type": "quantitative"}, "y2": {"datum": 93.1, "type": "quantitative"}}
        },
        {
          "data": {"values": [{"p":30},{"p":50},{"p":70}]},
          "mark": {"type": "rule", "color": "#787b86", "strokeDash": [2, 3], "strokeWidth": 1},
          "encoding": {
            "y": {"field": "p", "type": "quantitative"},
            "x": {"datum": {"year":2025,"month":5,"date":21,"hours":1,"minutes":10,"utc":true}, "type": "temporal"},
            "x2": {"datum": {"year":2026,"month":1,"date":22,"hours":21,"minutes":40,"utc":true}, "type": "temporal"}
          }
        },
        {
          "mark": {"type": "rule", "color": "#3a3a40"},
          "encoding": {"x": {"datum": {"year":2026,"month":1,"date":22,"hours":21,"minutes":40,"utc":true}, "type": "temporal"}}
        },
        {
          "data": {"name": "xmr"},
          "mark": {"type": "line", "color": "#8459d6", "strokeWidth": 2.2, "clip": true},
          "encoding": {
            "x": {"field": "t", "type": "temporal", "scale": {"type": "utc", "padding": 0, "domain": [{"year":2025,"month":5,"date":21,"hours":1,"minutes":10,"utc":true}, {"year":2026,"month":1,"date":30,"hours":19,"minutes":12,"utc":true}]},
              "axis": {"orient": "bottom", "title": null, "labelPadding": -9.3, "labelBaseline": "middle", "labelAlign": "center",
                "values": [
                  {"year":2025,"month":6,"date":1,"utc":true},{"year":2025,"month":6,"date":11,"utc":true},{"year":2025,"month":6,"date":21,"utc":true},
                  {"year":2025,"month":7,"date":1,"utc":true},{"year":2025,"month":7,"date":11,"utc":true},{"year":2025,"month":7,"date":21,"utc":true},
                  {"year":2025,"month":8,"date":1,"utc":true},{"year":2025,"month":8,"date":11,"utc":true},{"year":2025,"month":8,"date":21,"utc":true},
                  {"year":2025,"month":9,"date":1,"utc":true},{"year":2025,"month":9,"date":11,"utc":true},{"year":2025,"month":9,"date":21,"utc":true},
                  {"year":2025,"month":10,"date":1,"utc":true},{"year":2025,"month":10,"date":11,"utc":true},{"year":2025,"month":10,"date":21,"utc":true},
                  {"year":2025,"month":11,"date":1,"utc":true},{"year":2025,"month":11,"date":11,"utc":true},{"year":2025,"month":11,"date":21,"utc":true},
                  {"year":2025,"month":12,"date":1,"utc":true},{"year":2025,"month":12,"date":11,"utc":true},{"year":2025,"month":12,"date":21,"utc":true},
                  {"year":2026,"month":1,"date":1,"utc":true},{"year":2026,"month":1,"date":11,"utc":true},{"year":2026,"month":1,"date":21,"utc":true}
                ],
                "labelExpr": "utcdate(datum.value) == 1 ? (utcmonth(datum.value) == 0 ? '' : utcFormat(datum.value, '%b')) : '' + utcdate(datum.value)"
              }},
            "y": {"field": "r", "type": "quantitative", "scale": {"domain": [6.1, 93.1], "zero": false, "nice": false, "padding": 0},
              "axis": {"orient": "right", "values": [20, 40, 60, 80], "format": ".2f", "labelPadding": -43, "labelAlign": "left", "labelBaseline": "middle", "title": null}}
          }
        },
        {
          "mark": {"type": "rule", "color": "#38383e", "strokeWidth": 1},
          "encoding": {"y": {"datum": 93.1, "type": "quantitative"}}
        },
        {
          "mark": {"type": "rule", "color": "#5c5c62", "strokeWidth": 1.5},
          "encoding": {"y": {"datum": 16.1, "type": "quantitative"}}
        },
        {
          "mark": {"type": "text", "align": "center", "baseline": "middle", "fontSize": 9.5, "fontWeight": "bold", "color": "#b2b5be", "text": "2026"},
          "encoding": {"x": {"datum": {"year":2026,"month":1,"date":1,"utc":true}, "type": "temporal"}, "y": {"datum": 10.65, "type": "quantitative"}}
        },
        {
          "mark": {"type": "text", "align": "left", "baseline": "middle", "dx": 6.5, "fontSize": 10, "color": "#b2b5be", "text": "RSI (14)"},
          "encoding": {"x": {"datum": {"year":2025,"month":5,"date":21,"hours":1,"minutes":10,"utc":true}, "type": "temporal"}, "y": {"datum": 86.6, "type": "quantitative"}}
        },
        {
          "mark": {"type": "text", "align": "left", "baseline": "middle", "dx": 50, "fontSize": 10, "color": "#8459d6", "text": "78.19"},
          "encoding": {"x": {"datum": {"year":2025,"month":5,"date":21,"hours":1,"minutes":10,"utc":true}, "type": "temporal"}, "y": {"datum": 86.6, "type": "quantitative"}}
        },
        {
          "mark": {"type": "text", "align": "center", "baseline": "middle", "fontSize": 22, "fontWeight": "bold", "color": "#7e4fd6", "text": "Relative Strength Index"},
          "encoding": {"x": {"datum": {"year":2025,"month":12,"date":28,"utc":true}, "type": "temporal"}, "y": {"datum": 35.6, "type": "quantitative"}}
        },
        {
          "mark": {"type": "text", "align": "left", "baseline": "middle", "dx": 0, "fontSize": 13, "fontWeight": 900, "color": "#d1d4dc", "text": "TV"},
          "encoding": {"x": {"datum": {"year":2025,"month":5,"date":21,"hours":1,"minutes":10,"utc":true}, "type": "temporal"}, "y": {"datum": -2.4, "type": "quantitative"}}
        },
        {
          "mark": {"type": "text", "align": "left", "baseline": "middle", "dx": 20, "fontSize": 10.5, "fontWeight": 600, "color": "#d1d4dc", "text": "TradingView"},
          "encoding": {"x": {"datum": {"year":2025,"month":5,"date":21,"hours":1,"minutes":10,"utc":true}, "type": "temporal"}, "y": {"datum": -2.4, "type": "quantitative"}}
        }
      ]
    }
  ]
}
